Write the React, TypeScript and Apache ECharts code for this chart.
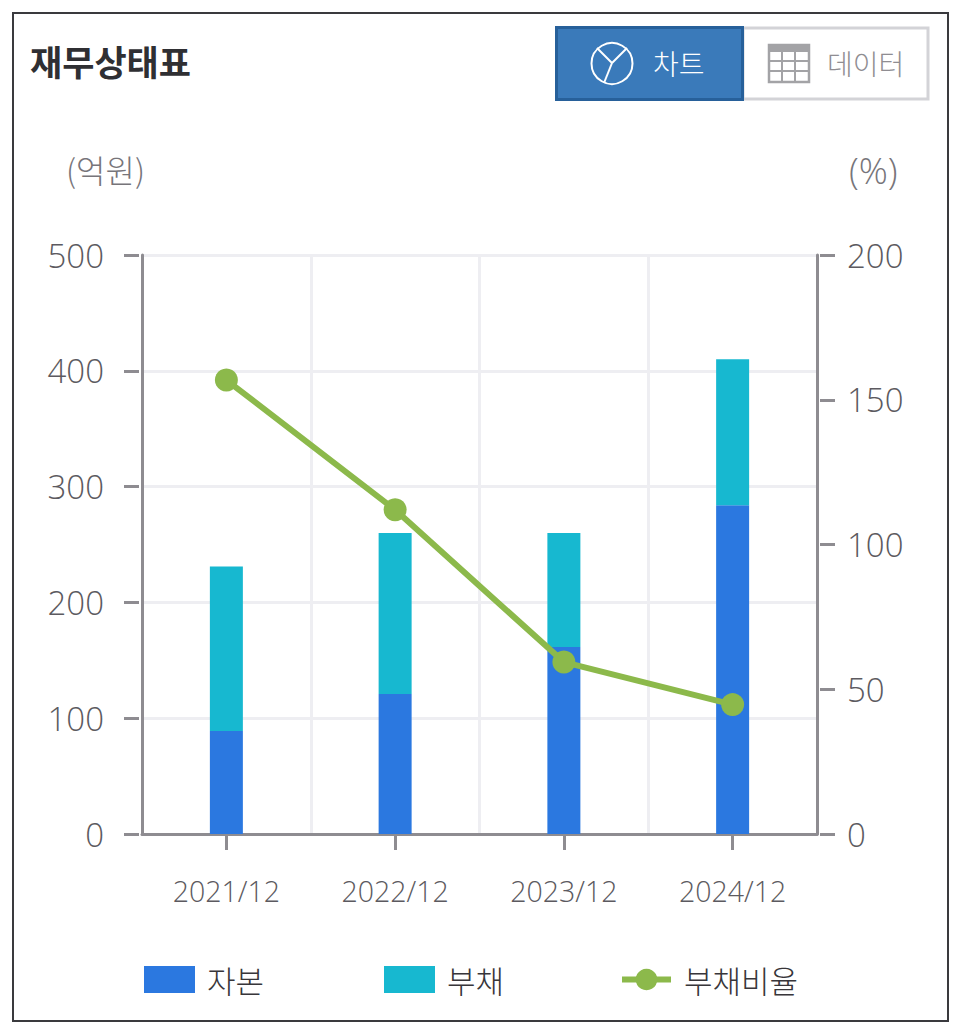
import React, { useEffect, useRef } from "react";
import * as echarts from "echarts";

const categories = ["2021/12", "2022/12", "2023/12", "2024/12"];
const capital = [89, 121, 161.5, 284];
const debt = [142, 139, 98.5, 126];
const debtRatio = [156.8, 112, 59.4, 44.7];

const FONT = '"Open Sans", "Noto Sans CJK KR", sans-serif';
const KR = '"Noto Sans CJK KR", sans-serif';
const AXIS = "#8e8c91";
const GRID = "#eeeef2";
const LABEL = "#5c5a60";
const GREEN = "#8cb94b";

export default function App() {
  const ref = useRef<HTMLDivElement>(null);
  useEffect(() => {
    const chart = echarts.init(ref.current!, undefined, { renderer: "svg" });
    const legendBase = {
      itemWidth: 51,
      itemHeight: 27,
      padding: 0,
      orient: "horizontal" as const,
      top: 964,
      textStyle: { fontFamily: KR, fontSize: 31, fontWeight: 300, color: "#38363a", padding: [0, 0, 4, 7] },
    };
    const iconLines: any[] = [];
    [51, 61, 71].forEach((y) => {
      iconLines.push({
        type: "line",
        shape: { x1: 769, y1: y, x2: 809, y2: y },
        style: { stroke: "#a3a3a6", lineWidth: 2 },
      });
    });
    [782, 795].forEach((x) => {
      iconLines.push({
        type: "line",
        shape: { x1: x, y1: 46, x2: x, y2: 82 },
        style: { stroke: "#a3a3a6", lineWidth: 2 },
      });
    });
    const tickAxis = (position: string, max: number, interval: number, margin: number) => ({
      type: "value",
      position,
      offset: 3,
      min: 0,
      max,
      interval,
      axisLine: { show: false },
      axisTick: { show: true, length: 15, lineStyle: { color: AXIS, width: 3 } },
      axisLabel: {
        color: LABEL,
        fontFamily: FONT,
        fontWeight: 300,
        fontSize: 33,
        margin,
        padding: [0, 0, 7, 0],
      },
      splitLine: { show: false },
    });
    chart.setOption({
      animation: false,
      backgroundColor: "#ffffff",
      grid: { left: 142, right: 143, top: 255, bottom: 199, containLabel: false },
      legend: [
        { ...legendBase, left: 144, icon: "rect", data: ["자본"] },
        { ...legendBase, left: 384, icon: "rect", data: ["부채"] },
        {
          ...legendBase,
          left: 619,
          data: ["부채비율"],
          itemWidth: 49,
          lineStyle: { color: GREEN, width: 6 },
          textStyle: { ...legendBase.textStyle, padding: [0, 0, 4, 8] },
        },
      ],
      xAxis: {
        type: "category",
        data: categories,
        axisLine: { lineStyle: { color: AXIS, width: 3 } },
        axisTick: { show: true, alignWithLabel: true, length: 16, lineStyle: { color: AXIS, width: 3 } },
        axisLabel: { color: LABEL, fontFamily: FONT, fontWeight: 300, fontSize: 28.5, margin: 43 },
        splitLine: { show: true, lineStyle: { color: GRID, width: 3 } },
      },
      yAxis: [
        {
          type: "value",
          min: 0,
          max: 500,
          interval: 100,
          axisLine: { show: true, lineStyle: { color: AXIS, width: 3 } },
          axisTick: { show: false },
          axisLabel: { show: false },
          splitLine: { show: true, lineStyle: { color: GRID, width: 3 } },
        },
        {
          type: "value",
          min: 0,
          max: 200,
          interval: 50,
          position: "right",
          axisLine: { show: true, lineStyle: { color: AXIS, width: 3 } },
          axisTick: { show: false },
          axisLabel: { show: false },
          splitLine: { show: false },
        },
        tickAxis("left", 500, 100, 35),
        tickAxis("right", 200, 50, 27),
      ],
      series: [
        { name: "자본", type: "bar", stack: "total", barWidth: 33, data: capital, itemStyle: { color: "#2b78e0" } },
        { name: "부채", type: "bar", stack: "total", barWidth: 33, data: debt, itemStyle: { color: "#17b8d0" } },
        {
          name: "부채비율",
          type: "line",
          yAxisIndex: 1,
          data: debtRatio,
          symbol: "circle",
          symbolSize: 23,
          lineStyle: { color: GREEN, width: 6 },
          itemStyle: { color: GREEN },
        },
      ],
      graphic: [
        { type: "rect", silent: true, z: -1, shape: { x: 13, y: 13, width: 935, height: 1008 }, style: { fill: "none", stroke: "#3a3a3e", lineWidth: 2 } },
        { type: "text", x: 30, y: 43, style: { text: "재무상태표", font: `700 35px ${KR}`, fill: "#2f2f33" } },
        { type: "text", x: 66, y: 153, style: { text: "(억원)", font: `300 32px ${KR}`, fill: "#77757a" } },
        { type: "text", x: 849, y: 152, style: { text: "(%)", font: `300 36px ${FONT}`, fill: "#77757a" } },
        { type: "rect", shape: { x: 743, y: 28, width: 185, height: 71 }, style: { fill: "#ffffff", stroke: "#d3d3d7", lineWidth: 3 } },
        { type: "rect", shape: { x: 556.5, y: 27.5, width: 186, height: 72 }, style: { fill: "#3a7aba", stroke: "#27609a", lineWidth: 3 } },
        { type: "circle", shape: { cx: 612, cy: 63.5, r: 20.5 }, style: { fill: "none", stroke: "#ffffff", lineWidth: 2 } },
        { type: "line", shape: { x1: 612, y1: 63, x2: 597, y2: 48 }, style: { stroke: "#ffffff", lineWidth: 2 } },
        { type: "line", shape: { x1: 612, y1: 63, x2: 627, y2: 48 }, style: { stroke: "#ffffff", lineWidth: 2 } },
        { type: "line", shape: { x1: 612, y1: 63, x2: 604, y2: 83 }, style: { stroke: "#ffffff", lineWidth: 2 } },
        { type: "text", x: 653, y: 49, style: { text: "차트", font: `300 28px ${KR}`, fill: "#ffffff" } },
        { type: "rect", shape: { x: 769, y: 45, width: 40, height: 37 }, style: { fill: "#ffffff", stroke: "#a3a3a6", lineWidth: 2.5 } },
        { type: "rect", shape: { x: 768, y: 44, width: 42, height: 7 }, style: { fill: "#a3a3a6" } },
        ...iconLines,
        { type: "text", x: 827, y: 49, style: { text: "데이터", font: `300 28px ${KR}`, fill: "#8f8d92" } },
      ],
    });
    return () => chart.dispose();
  }, []);
  return (
    <div
      ref={ref}
      style={{ position: "fixed", left: 0, top: 0, width: 960, height: 1033, background: "#fff" }}
    />
  );
}
